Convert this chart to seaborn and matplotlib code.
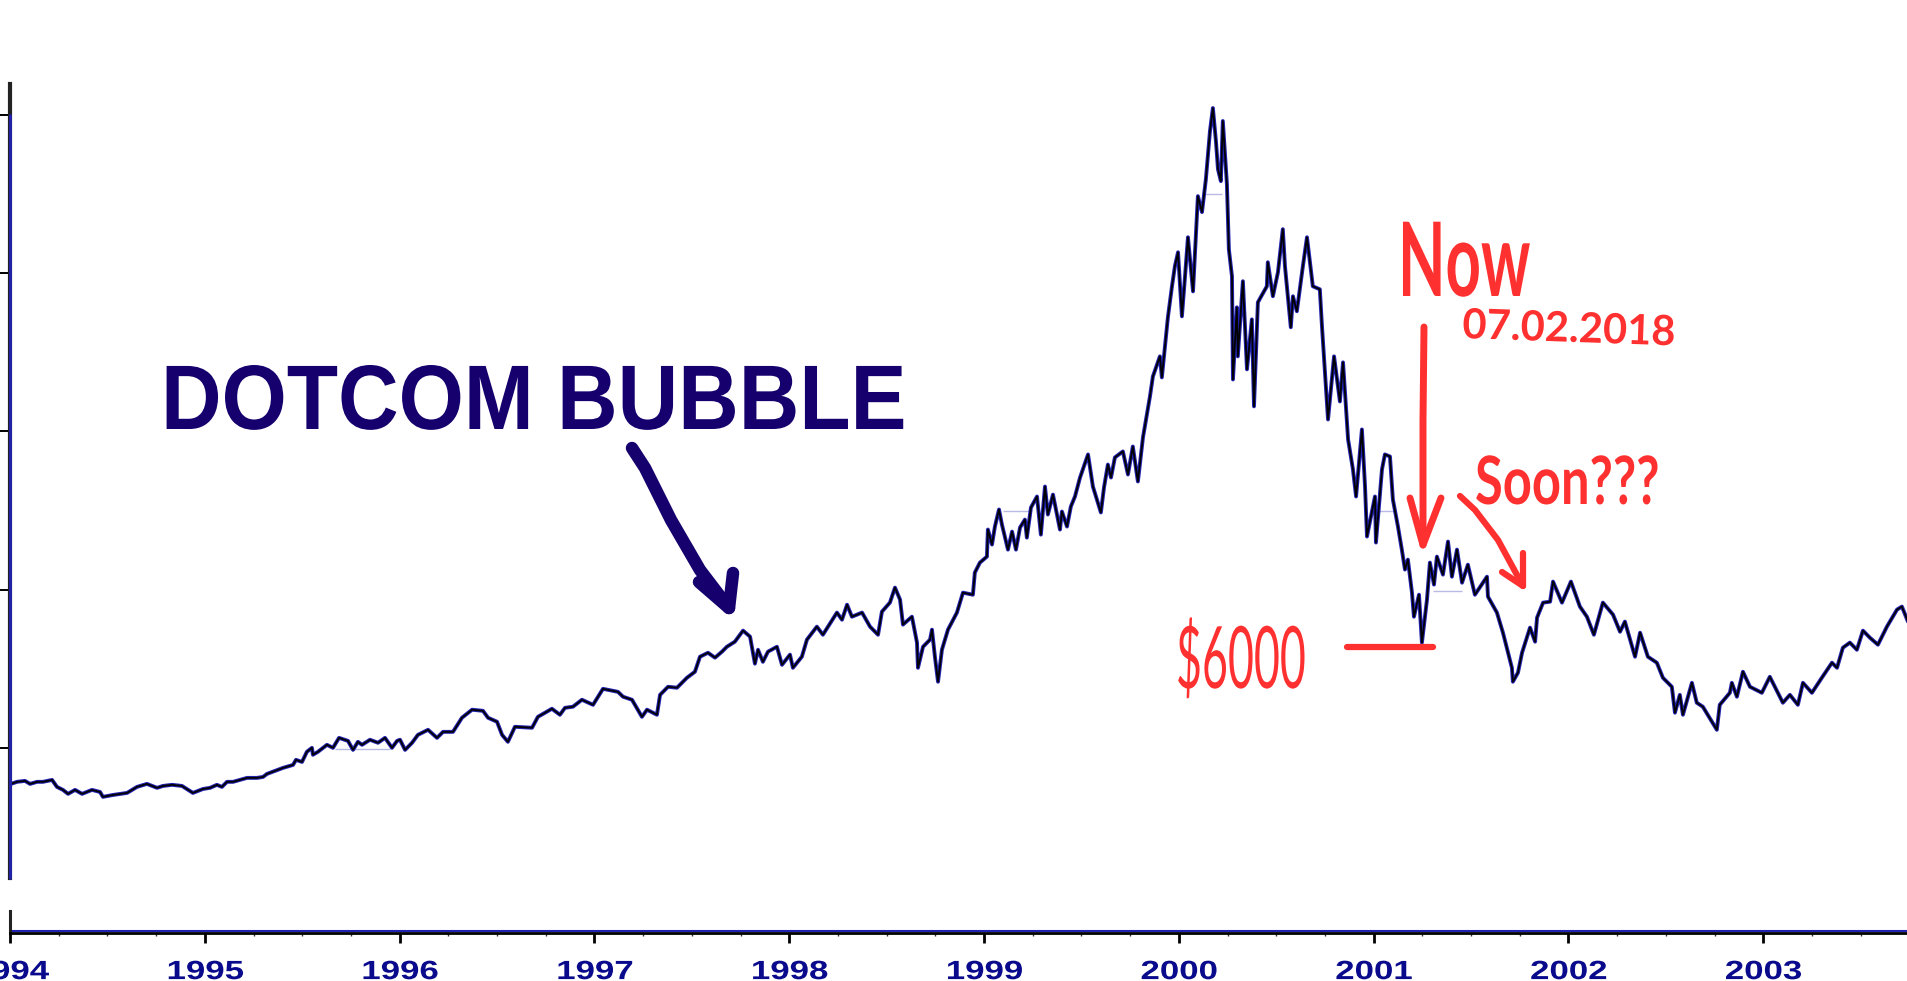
import numpy as np
import pandas as pd
import matplotlib
matplotlib.use("Agg")
import matplotlib.pyplot as plt
import matplotlib.patheffects as pe
from matplotlib.ticker import MultipleLocator
from matplotlib.transforms import Affine2D
import seaborn as sns

# years after 1994 and index close
years_after_1994 = [
    .005, .036, .077, .103, .139, .169, .216, .241, .272, .298,
    .334, .370, .421, .462, .477, .529, .601, .652, .703, .755,
    .785, .832, .883, .939, .991, 1.027, 1.062, 1.088, 1.114, 1.145,
    1.217, 1.268, 1.299, 1.319, 1.401, 1.453, 1.468, 1.499, 1.524, 1.550,
    1.555, 1.581, 1.627, 1.658, 1.689, 1.735, 1.761, 1.786, 1.807, 1.848,
    1.889, 1.925, 1.961, 1.987, 2.002, 2.028, 2.064, 2.094, 2.146, 2.192,
    2.223, 2.274, 2.320, 2.372, 2.428, 2.454, 2.500, 2.526, 2.556, 2.592,
    2.680, 2.710, 2.782, 2.823, 2.849, 2.890, 2.936, 2.993, 3.044, 3.121,
    3.147, 3.193, 3.244, 3.270, 3.321, 3.337, 3.378, 3.424, 3.475, 3.516,
    3.542, 3.583, 3.619, 3.655, 3.680, 3.721, 3.763, 3.799, 3.824, 3.840,
    3.865, 3.891, 3.937, 3.963, 4.004, 4.019, 4.065, 4.091, 4.142, 4.173,
    4.245, 4.271, 4.297, 4.322, 4.374, 4.415, 4.456, 4.476, 4.517, 4.543,
    4.569, 4.584, 4.630, 4.656, 4.661, 4.687, 4.723, 4.733, 4.748, 4.764,
    4.784, 4.815, 4.861, 4.892, 4.943, 4.953, 4.979, 5.015, 5.020, 5.041,
    5.056, 5.077, 5.092, 5.123, 5.144, 5.164, 5.185, 5.210, 5.220, 5.241,
    5.272, 5.292, 5.313, 5.328, 5.354, 5.390, 5.400, 5.426, 5.446, 5.467,
    5.493, 5.534, 5.559, 5.600, 5.616, 5.636, 5.652, 5.672, 5.713, 5.739,
    5.764, 5.790, 5.816, 5.852, 5.867, 5.903, 5.913, 5.944, 5.965, 5.980,
    5.996, 6.016, 6.032, 6.047, 6.073, 6.098, 6.119, 6.139, 6.160, 6.175,
    6.191, 6.201, 6.216, 6.226, 6.247, 6.257, 6.273, 6.278, 6.298, 6.303,
    6.329, 6.350, 6.375, 6.386, 6.406, 6.452, 6.457, 6.483, 6.509, 6.534,
    6.545, 6.575, 6.586, 6.606, 6.637, 6.658, 6.688, 6.724, 6.735, 6.766,
    6.797, 6.827, 6.843, 6.869, 6.894, 6.910, 6.940, 6.956, 6.966, 7.007,
    7.012, 7.043, 7.058, 7.084, 7.099, 7.125, 7.145, 7.161, 7.176, 7.197,
    7.207, 7.233, 7.248, 7.274, 7.289, 7.310, 7.325, 7.356, 7.382, 7.402,
    7.428, 7.454, 7.484, 7.520, 7.582, 7.587, 7.633, 7.664, 7.710, 7.715,
    7.741, 7.762, 7.803, 7.829, 7.839, 7.870, 7.906, 7.921, 7.967, 8.013,
    8.059, 8.095, 8.131, 8.177, 8.229, 8.265, 8.290, 8.342, 8.368, 8.408,
    8.454, 8.485, 8.531, 8.547, 8.572, 8.588, 8.634, 8.659, 8.690, 8.762,
    8.777, 8.829, 8.839, 8.865, 8.896, 8.932, 8.993, 9.034, 9.101, 9.137,
    9.178, 9.204, 9.250, 9.301, 9.353, 9.379, 9.409, 9.445, 9.481, 9.512,
    9.548, 9.589, 9.635, 9.687, 9.712, 9.743,
]
closes = [
    772, 785, 791, 772, 785, 785, 797, 753, 734, 709,
    734, 709, 734, 721, 690, 702, 715, 753, 772, 747,
    759, 766, 759, 715, 740, 747, 766, 753, 785, 785,
    810, 810, 816, 835, 873, 892, 924, 911, 975, 1000,
    956, 975, 1019, 1000, 1063, 1044, 987, 1038, 1019, 1051,
    1032, 1063, 1000, 1044, 1051, 987, 1032, 1082, 1114, 1063,
    1101, 1101, 1190, 1241, 1234, 1190, 1165, 1082, 1038, 1133,
    1127, 1196, 1247, 1209, 1253, 1260, 1304, 1272, 1373, 1354,
    1323, 1304, 1196, 1241, 1209, 1335, 1386, 1380, 1443, 1481,
    1576, 1601, 1570, 1608, 1639, 1671, 1741, 1703, 1532, 1620,
    1544, 1608, 1639, 1525, 1589, 1506, 1576, 1684, 1766, 1715,
    1855, 1810, 1905, 1829, 1855, 1766, 1715, 1861, 1918, 2013,
    1937, 1779, 1829, 1665, 1506, 1639, 1684, 1747, 1576, 1418,
    1620, 1747, 1855, 1981, 1968, 2108, 2171, 2209, 2380, 2285,
    2399, 2507, 2412, 2253, 2367, 2253, 2393, 2443, 2329, 2519,
    2589, 2348, 2652, 2475, 2601, 2380, 2494, 2399, 2526, 2589,
    2709, 2855, 2652, 2488, 2646, 2791, 2709, 2836, 2874, 2728,
    2905, 2684, 2962, 3222, 3348, 3475, 3342, 3722, 3918, 4045,
    4133, 3728, 3981, 4228, 3886, 4488, 4387, 4595, 4899, 5045,
    4830, 4659, 4583, 4963, 4564, 4152, 3981, 3329, 3785, 3475,
    3950, 3393, 3709, 3159, 3817, 3918, 4070, 3855, 4007, 4279,
    4045, 3659, 3855, 3760, 4045, 4228, 3918, 3899, 3665, 3076,
    3475, 3190, 3437, 2950, 2760, 2589, 3013, 2652, 2336, 2589,
    2298, 2760, 2855, 2842, 2570, 2399, 2253, 2127, 2190, 1981,
    1829, 1968, 1665, 1937, 2171, 2032, 2209, 2095, 2304, 2082,
    2253, 2044, 2158, 1968, 2082, 1956, 1855, 1728, 1506, 1418,
    1475, 1601, 1760, 1671, 1823, 1918, 1924, 2051, 1918, 2051,
    1893, 1829, 1715, 1918, 1842, 1734, 1798, 1576, 1728, 1576,
    1538, 1443, 1386, 1222, 1335, 1209, 1411, 1285, 1260, 1114,
    1272, 1348, 1411, 1323, 1481, 1386, 1348, 1449, 1285, 1335,
    1272, 1411, 1348, 1443, 1538, 1506, 1633, 1665, 1620, 1741,
    1696, 1652, 1766, 1874, 1893, 1798,
]

# the faint flat bits where the chart has gaps
gap_starts = [1.668, 5.098, 6.135, 7.023, 7.305]
gap_ends = [1.951, 5.236, 6.222, 7.099, 7.454]
gap_levels = [994, 2500, 4500, 2500, 1994]

tick_years = list(range(1994, 2004))
y_ticks = [1000, 2000, 3000, 4000, 5000]

NAVY = "#16006E"
LINE_BLUE = "#2222B0"
LABEL_BLUE = "#0A0A8C"
RED = "#FF3030"


class Stretch(pe.AbstractPathEffect):
    """Squeezes or widens the glyphs of a text around its start point or its middle."""

    def __init__(self, sx=1.0, sy=1.0, center=False):
        super().__init__()
        self.sx, self.sy, self.center = sx, sy, center

    def draw_path(self, renderer, gc, tpath, affine, rgbFace=None):
        shift = -(self.sx - 1) * tpath.get_extents().width / 2 if self.center else 0
        renderer.draw_path(gc, tpath, Affine2D().scale(self.sx, self.sy).translate(shift, 0) + affine, rgbFace)


sns.set_style("white")
plt.rcParams["font.family"] = ["Liberation Sans", "DejaVu Sans"]

W, H = 1908, 981
fig = plt.figure(figsize=(W / 100, H / 100), dpi=100)
x_end = 1994 + (W - 10) / 194.8

# ── Price panel ───────────────────────────────────────────────────────────
ax = fig.add_axes([10 / W, 1 - 878 / H, 1 - 10 / W, (878 - 84) / H])
df = pd.DataFrame({"year": 1994 + np.array(years_after_1994), "close": closes})
ax.hlines(gap_levels, 1994 + np.array(gap_starts), 1994 + np.array(gap_ends),
          color="#B9B9E6", lw=1)
sns.lineplot(data=df, x="year", y="close", estimator=None, sort=False,
             color=LINE_BLUE, lw=2.8, ax=ax)
sns.lineplot(data=df, x="year", y="close", estimator=None, sort=False,
             color="black", lw=1.3, ax=ax)
ax.plot([1994, 1994], [y_ticks[-1], 177], color=LINE_BLUE, lw=2, zorder=5, clip_on=False)
ax.set_xlim(1994, x_end)
ax.set_ylim(177, 5197)
ax.set_xlabel("")
ax.set_ylabel("")
ax.set_xticks([])
ax.set_yticks(y_ticks)
ax.yaxis.set_minor_locator(MultipleLocator(500))
ax.set_yticklabels([])
ax.tick_params(axis="y", which="major", left=True, length=7, width=1.4, color="black")
ax.tick_params(axis="y", which="minor", left=True, length=1.5, width=1, color="#555555")
sns.despine(ax=ax, top=True, right=True, bottom=True)
ax.spines["left"].set_color("#222222")
ax.spines["left"].set_linewidth(3)

# ── Bottom panel with the year axis ───────────────────────────────────────
ax2 = fig.add_axes([10 / W, 1 - 933 / H, 1 - 10 / W, (933 - 911) / H])
ax2.axhline(0.07, color=LINE_BLUE, lw=1.5)
ax2.set_xlim(1994, x_end)
ax2.set_ylim(0, 1)
ax2.set_yticks([])
ax2.set_xticks(tick_years)
ax2.set_xticklabels([str(y) for y in tick_years], color=LABEL_BLUE, fontsize=19, fontweight="bold",
                    path_effects=[Stretch(1.32, center=True)])
ax2.xaxis.set_minor_locator(MultipleLocator(0.25))
ax2.tick_params(axis="x", which="major", bottom=True, length=7.5, width=2, color="black", pad=12)
ax2.tick_params(axis="x", which="minor", bottom=True, length=2, width=1, color="#333333")
sns.despine(ax=ax2, top=True, right=True)
ax2.spines["left"].set_color("#222222")
ax2.spines["left"].set_linewidth(2.2)
ax2.spines["bottom"].set_color("black")
ax2.spines["bottom"].set_linewidth(2)

# ── Drawn-on notes, placed in picture pixels ──────────────────────────────
note = fig.add_axes([0, 0, 1, 1], facecolor="none")
note.set_xlim(0, W)
note.set_ylim(H, 0)
note.axis("off")


def stroke(xs, ys, color, lw):
    note.plot(xs, ys, color=color, lw=lw, solid_capstyle="round", solid_joinstyle="round")


def label(x, y, s, size, color, sx=1.0, sy=1.0, weight="normal", family="Lato", rotation=0):
    note.text(x, y, s, fontsize=size, color=color, fontweight=weight, family=family,
              ha="left", va="baseline", rotation=rotation, rotation_mode="anchor",
              path_effects=[Stretch(sx, sy)])


label(161, 429, "DOTCOM BUBBLE", 66, NAVY, sx=0.915, weight="bold", family="Liberation Sans")
stroke([632, 645, 671, 700, 729], [448, 468, 520, 570, 608], NAVY, 9)
stroke([699, 729, 733], [582, 608, 573], NAVY, 9)

label(1398, 296, "Now", 74, RED, sx=0.6, weight="bold")
label(1462, 338, "07.02.2018", 30, RED, sx=1.0, weight="bold", rotation=-2)
stroke([1424, 1423, 1423], [327, 420, 545], RED, 5)
stroke([1410, 1423, 1441], [498, 545, 498], RED, 5)

label(1475, 504, "Soon???", 48, RED, sx=0.76, weight="bold")
stroke([1460, 1475, 1498, 1523], [496, 510, 540, 586], RED, 4.5)
stroke([1502, 1523, 1523], [572, 586, 553], RED, 4.5)

label(1176, 688, "$6000", 62, RED, sx=0.52)
stroke([1347, 1433], [647, 647], RED, 4.5)

fig.savefig("out.png", dpi=100)
